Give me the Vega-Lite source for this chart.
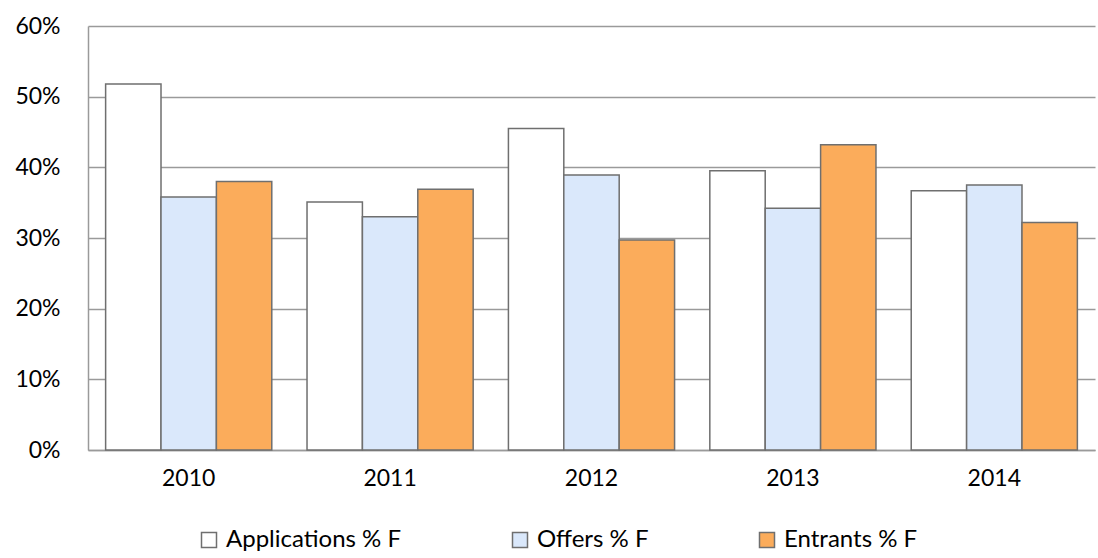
{
  "$schema": "https://vega.github.io/schema/vega-lite/v6.json",
  "width": 1007,
  "height": 424,
  "autosize": "none",
  "padding": {"left": 88, "top": 26, "right": 3, "bottom": 108},
  "background": "white",
  "data": {
    "values": [
      {"year": "2010", "series": "Applications % F", "value": 0.518},
      {"year": "2010", "series": "Offers % F", "value": 0.358},
      {"year": "2010", "series": "Entrants % F", "value": 0.380},
      {"year": "2011", "series": "Applications % F", "value": 0.351},
      {"year": "2011", "series": "Offers % F", "value": 0.330},
      {"year": "2011", "series": "Entrants % F", "value": 0.369},
      {"year": "2012", "series": "Applications % F", "value": 0.455},
      {"year": "2012", "series": "Offers % F", "value": 0.389},
      {"year": "2012", "series": "Entrants % F", "value": 0.297},
      {"year": "2013", "series": "Applications % F", "value": 0.395},
      {"year": "2013", "series": "Offers % F", "value": 0.342},
      {"year": "2013", "series": "Entrants % F", "value": 0.432},
      {"year": "2014", "series": "Applications % F", "value": 0.367},
      {"year": "2014", "series": "Offers % F", "value": 0.375},
      {"year": "2014", "series": "Entrants % F", "value": 0.322}
    ]
  },
  "mark": {"type": "bar", "stroke": "#6f6f6f", "strokeWidth": 1.5},
  "encoding": {
    "x": {
      "field": "year",
      "type": "nominal",
      "scale": {"paddingInner": 0.175, "paddingOuter": 0.0875},
      "axis": {
        "title": null,
        "labelAngle": 0,
        "labelFont": "Lato",
        "labelFontSize": 23,
        "labelColor": "#000000",
        "labelPadding": 17,
        "ticks": false,
        "domainColor": "#9a9a9a",
        "domainWidth": 1.5
      }
    },
    "xOffset": {
      "field": "series",
      "sort": ["Applications % F", "Offers % F", "Entrants % F"],
      "scale": {"paddingInner": 0, "paddingOuter": 0}
    },
    "y": {
      "field": "value",
      "type": "quantitative",
      "scale": {"domain": [0, 0.6], "nice": false},
      "axis": {
        "title": null,
        "format": ".0%",
        "values": [0, 0.1, 0.2, 0.3, 0.4, 0.5, 0.6],
        "labelFont": "Lato",
        "labelFontSize": 23,
        "labelColor": "#000000",
        "labelPadding": 28,
        "ticks": false,
        "domainColor": "#9a9a9a",
        "domainWidth": 1.5,
        "gridColor": "#9a9a9a",
        "gridWidth": 1.5,
        "gridOpacity": 1
      }
    },
    "color": {
      "field": "series",
      "type": "nominal",
      "sort": ["Applications % F", "Offers % F", "Entrants % F"],
      "scale": {
        "domain": ["Applications % F", "Offers % F", "Entrants % F"],
        "range": ["#ffffff", "#dae8fb", "#fbac5b"]
      },
      "legend": {
        "title": null,
        "orient": "none",
        "direction": "horizontal",
        "legendX": 109,
        "legendY": 502,
        "symbolType": "square",
        "symbolSize": 225,
        "symbolStrokeColor": "#6f6f6f",
        "symbolStrokeWidth": 1.5,
        "labelFont": "Lato",
        "labelFontSize": 24,
        "labelColor": "#000000",
        "labelOffset": 5,
        "columnPadding": 106,
        "labelLimit": 300
      }
    }
  },
  "config": {"view": {"stroke": null}}
}
